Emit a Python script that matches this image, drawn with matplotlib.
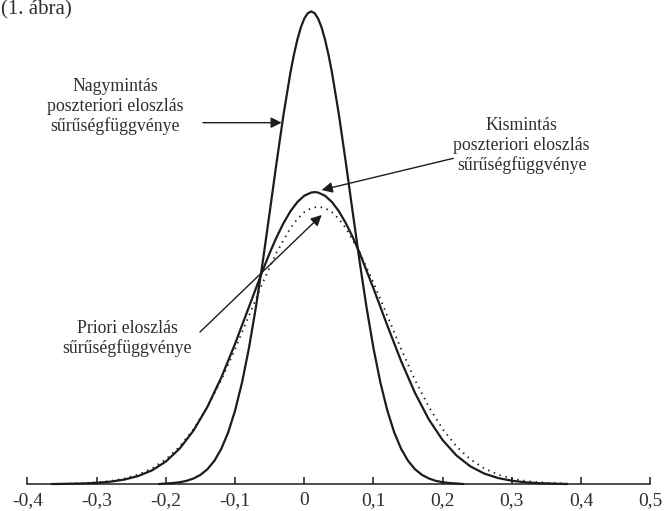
import matplotlib
matplotlib.use("Agg")
import matplotlib.pyplot as plt

plt.rcParams['font.family'] = ['Liberation Serif', 'DejaVu Serif']

# large-sample posterior (tall curve)
x_big = [-0.21, -0.20, -0.19, -0.18, -0.17, -0.16, -0.15, -0.14, -0.13, -0.12,
         -0.11, -0.10, -0.09, -0.08, -0.07, -0.06, -0.05, -0.04, -0.03, -0.02,
         -0.015, -0.01, -0.005, 0.00, 0.005, 0.01, 0.015, 0.02, 0.025, 0.03,
         0.035, 0.04, 0.05, 0.06, 0.07, 0.08, 0.09, 0.10, 0.11, 0.12,
         0.13, 0.14, 0.15, 0.16, 0.17, 0.18, 0.19, 0.20, 0.21, 0.22, 0.23]
y_big = [0.0, 0.008, 0.014, 0.026, 0.046, 0.080, 0.132, 0.213, 0.333, 0.505,
         0.742, 1.057, 1.459, 1.954, 2.539, 3.199, 3.908, 4.628, 5.316, 5.921,
         6.176, 6.394, 6.569, 6.696, 6.774, 6.80, 6.774, 6.696, 6.569, 6.394,
         6.176, 5.921, 5.316, 4.628, 3.908, 3.199, 2.539, 1.954, 1.459, 1.057,
         0.742, 0.505, 0.333, 0.213, 0.132, 0.080, 0.046, 0.026, 0.014, 0.008, 0.0]

# small-sample posterior
x_small = [-0.365, -0.34, -0.32, -0.30, -0.28, -0.26, -0.24, -0.22, -0.20, -0.18,
           -0.16, -0.14, -0.12, -0.10, -0.08, -0.06, -0.05, -0.04, -0.03, -0.02,
           -0.01, 0.00, 0.01, 0.015, 0.02, 0.03, 0.04, 0.05, 0.06, 0.07,
           0.08, 0.10, 0.12, 0.14, 0.16, 0.18, 0.20, 0.22, 0.24, 0.26,
           0.28, 0.30, 0.32, 0.34, 0.36, 0.38]
y_small = [0.0, 0.004, 0.008, 0.017, 0.034, 0.064, 0.115, 0.197, 0.324, 0.511,
           0.770, 1.110, 1.530, 2.018, 2.547, 3.076, 3.324, 3.552, 3.754, 3.925,
           4.057, 4.148, 4.194, 4.20, 4.194, 4.148, 4.057, 3.925, 3.754, 3.552,
           3.324, 2.814, 2.280, 1.767, 1.310, 0.929, 0.631, 0.410, 0.254, 0.151,
           0.086, 0.047, 0.024, 0.012, 0.006, 0.0]

# prior
x_prior = [-0.34, -0.32, -0.30, -0.28, -0.26, -0.24, -0.22, -0.20, -0.18, -0.16,
           -0.14, -0.12, -0.10, -0.08, -0.06, -0.04, -0.02, -0.01, 0.00, 0.01,
           0.02, 0.03, 0.04, 0.05, 0.06, 0.08, 0.10, 0.12, 0.14, 0.16,
           0.18, 0.20, 0.22, 0.24, 0.26, 0.28, 0.30, 0.32, 0.34, 0.36, 0.38]
y_prior = [0.006, 0.012, 0.024, 0.044, 0.079, 0.136, 0.224, 0.355, 0.540, 0.790,
           1.109, 1.497, 1.942, 2.420, 2.897, 3.333, 3.683, 3.814, 3.911, 3.970,
           3.99, 3.970, 3.911, 3.814, 3.683, 3.333, 2.897, 2.420, 1.942, 1.497,
           1.109, 0.790, 0.540, 0.355, 0.224, 0.136, 0.079, 0.044, 0.024, 0.012, 0.006]

tick_pos = [-0.4, -0.3, -0.2, -0.1, 0.0, 0.1, 0.2, 0.3, 0.4, 0.5]
tick_labels = ['-0,4', '-0,3', '-0,2', '-0,1', '0', '0,1', '0,2', '0,3', '0,4', '0,5']

ink = '#1c1c1c'
txt = '#2e2e2e'

fig = plt.figure(figsize=(6.64, 5.11), dpi=100)
ax = fig.add_axes([0, 0, 1, 1])
ax.set_xlim(-0.4397, 0.5198)
ax.set_ylim(-0.388, 6.964)

ax.plot(x_big, y_big, color=ink, lw=1.6, solid_capstyle='round', solid_joinstyle='round')
ax.plot(x_small, y_small, color=ink, lw=1.6, solid_capstyle='round', solid_joinstyle='round')
ax.plot(x_prior, y_prior, color=ink, lw=1.3, linestyle=(0, (0.8, 2.6)))

# axis
for s in ['top', 'left', 'right']:
    ax.spines[s].set_visible(False)
ax.spines['bottom'].set_position(('data', 0))
ax.spines['bottom'].set_bounds(-0.4, 0.5)
ax.spines['bottom'].set_linewidth(1.1)
ax.spines['bottom'].set_color(ink)
ax.set_xticks(tick_pos)
ax.set_xticklabels(tick_labels)
ax.tick_params(axis='x', direction='in', length=5, width=1.1, color=ink,
               pad=6, labelsize=14, labelcolor=txt)
ax.set_yticks([])

# annotations
arrow = dict(arrowstyle='-|>', color=ink, lw=1.0, mutation_scale=16,
             shrinkA=0, shrinkB=0)
ax.annotate('', xy=(-0.0327, 5.199), xytext=(-0.1464, 5.199), arrowprops=arrow)
ax.annotate('', xy=(0.0251, 4.230), xytext=(0.2153, 4.686), arrowprops=arrow)
ax.annotate('', xy=(0.0251, 3.871), xytext=(-0.1507, 2.187), arrowprops=arrow)

ax.text(-0.2736, 5.43, 'Nagymintás\nposzteriori eloszlás\nsűrűségfüggvénye',
        ha='center', va='center', fontsize=12.8, color=txt, linespacing=1.18)
ax.text(0.3142, 4.87, 'Kismintás\nposzteriori eloszlás\nsűrűségfüggvénye',
        ha='center', va='center', fontsize=12.8, color=txt, linespacing=1.18)
ax.text(-0.2555, 2.09, 'Priori eloszlás\nsűrűségfüggvénye',
        ha='center', va='center', fontsize=12.8, color=txt, linespacing=1.18)

fig.text(0.002, 1 - 14 / 511, '(1. ábra)', ha='left', va='baseline',
         fontsize=15, color=txt)

fig.savefig('out.png', dpi=100)
